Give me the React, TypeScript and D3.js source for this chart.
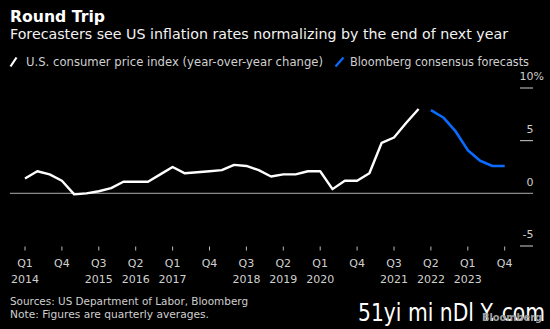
import React from "react";
import * as d3 from "d3";

const quarters = [
  "2014Q1","2014Q2","2014Q3","2014Q4","2015Q1","2015Q2","2015Q3","2015Q4",
  "2016Q1","2016Q2","2016Q3","2016Q4","2017Q1","2017Q2","2017Q3","2017Q4",
  "2018Q1","2018Q2","2018Q3","2018Q4","2019Q1","2019Q2","2019Q3","2019Q4",
  "2020Q1","2020Q2","2020Q3","2020Q4","2021Q1","2021Q2","2021Q3","2021Q4",
  "2022Q1","2022Q2","2022Q3","2022Q4","2023Q1","2023Q2","2023Q3","2023Q4",
];

const cpiValues = [
  1.4, 2.1, 1.8, 1.2, -0.1, 0.0, 0.2, 0.5,
  1.1, 1.1, 1.1, 1.8, 2.5, 1.9, 2.0, 2.1,
  2.2, 2.7, 2.6, 2.2, 1.6, 1.8, 1.8, 2.1,
  2.1, 0.4, 1.2, 1.2, 1.9, 4.8, 5.3, 6.7,
  8.0,
];

const forecastStart = 33;
const forecastValues = [7.9, 7.2, 5.9, 4.1, 3.1, 2.6, 2.6];

const yTicks = [-5, 0, 5, 10];
const xTickEvery = 3;

const title = "Round Trip";
const subtitle = "Forecasters see US inflation rates normalizing by the end of next year";
const legendLabels = ["U.S. consumer price index (year-over-year change)", "Bloomberg consensus forecasts"];
const sourceLines = ["Sources: US Department of Labor, Bloomberg", "Note: Figures are quarterly averages."];

const FONT = "'DejaVu Sans', 'Noto Sans', sans-serif";

export default function App() {
  const W = 550, H = 329;
  const x = d3.scaleLinear().domain([0, quarters.length - 1]).range([25, 504.7]);
  const y = d3.scaleLinear().domain([-5, 10]).range([246, 88]);

  const line = d3.line<[number, number]>().x(d => x(d[0])).y(d => y(d[1]));
  const cpiPts: [number, number][] = cpiValues.map((v, i) => [i, v]);
  const fcPts: [number, number][] = forecastValues.map((v, i) => [forecastStart + i, v]);

  const xTickIdx = d3.range(0, quarters.length, xTickEvery);

  return (
    <svg width={W} height={H} style={{ position: "fixed", left: 0, top: 0, background: "#000" }}>
      <rect x={0} y={0} width={W} height={H} fill="#000" />
      <text x={10} y={22} fill="#fff" fontFamily={FONT} fontWeight="bold" fontSize={15.5}
        textLength={95} lengthAdjust="spacingAndGlyphs">{title}</text>
      <text x={10} y={39.3} fill="#f2f2f2" fontFamily={FONT} fontSize={14}
        textLength={498} lengthAdjust="spacingAndGlyphs">{subtitle}</text>

      {/* legend */}
      <line x1={10.5} y1={66.5} x2={16.5} y2={57.5} stroke="#fff" strokeWidth={2.2} />
      <text x={26} y={65.6} fill="#d0d0d0" fontFamily={FONT} fontSize={11.5}
        textLength={297} lengthAdjust="spacingAndGlyphs">{legendLabels[0]}</text>
      <line x1={335.5} y1={66.5} x2={343.5} y2={57.5} stroke="#0a6cff" strokeWidth={2.2} />
      <text x={350} y={65.6} fill="#d0d0d0" fontFamily={FONT} fontSize={11.5}
        textLength={179} lengthAdjust="spacingAndGlyphs">{legendLabels[1]}</text>

      {/* y axis */}
      {yTicks.map(t => (
        <g key={t}>
          {t === 0 ? (
            <line x1={10} x2={533} y1={y(0)} y2={y(0)} stroke="#8a8a8a" strokeWidth={1.3} />
          ) : (
            <line x1={520} x2={533} y1={y(t)} y2={y(t)} stroke="#cfcfcf" strokeWidth={1} />
          )}
          <text x={533.5} y={y(t) - 7.8} fill="#cfcfcf" fontFamily={FONT} fontSize={11}
            textAnchor="end">{t}</text>
          {t === 10 && (
            <text x={533.5} y={y(t) - 7.8} fill="#cfcfcf" fontFamily={FONT} fontSize={11}>%</text>
          )}
        </g>
      ))}

      {/* x axis */}
      {xTickIdx.map((i, k) => {
        const [yr, q] = quarters[i].split("Q");
        const prevYear = k > 0 ? quarters[xTickIdx[k - 1]].split("Q")[0] : null;
        const showYear = prevYear !== yr;
        return (
          <g key={i}>
            <line x1={x(i)} x2={x(i)} y1={246.5} y2={250.5} stroke="#bbb" strokeWidth={1} />
            <text x={x(i)} y={267.3} fill="#d0d0d0" fontFamily={FONT} fontSize={11}
              textAnchor="middle">{"Q" + q}</text>
            {showYear && (
              <text x={x(i)} y={282.7} fill="#d0d0d0" fontFamily={FONT} fontSize={11}
                textAnchor="middle">{yr}</text>
            )}
          </g>
        );
      })}

      <path d={line(cpiPts) || ""} fill="none" stroke="#fff" strokeWidth={2.4} strokeLinejoin="round" />
      <path d={line(fcPts) || ""} fill="none" stroke="#0a6cff" strokeWidth={2.6} strokeLinejoin="round" />

      {/* sources */}
      <text x={10} y={305} fill="#cfcfcf" fontFamily={FONT} fontSize={11}
        textLength={238} lengthAdjust="spacingAndGlyphs">{sourceLines[0]}</text>
      <text x={10} y={318.3} fill="#cfcfcf" fontFamily={FONT} fontSize={11}
        textLength={199} lengthAdjust="spacingAndGlyphs">{sourceLines[1]}</text>

      {/* watermark */}
      <text x={358} y={320.7} fill="#fff" fontFamily={FONT} fontSize={24}
        textLength={187} lengthAdjust="spacingAndGlyphs">51yi mi nDl Y. com</text>
      <text x={482} y={321} fill="#a0a0a0" fontFamily={FONT} fontWeight="bold" fontSize={11}
        textLength={60} lengthAdjust="spacingAndGlyphs">Bloomberg</text>
    </svg>
  );
}
